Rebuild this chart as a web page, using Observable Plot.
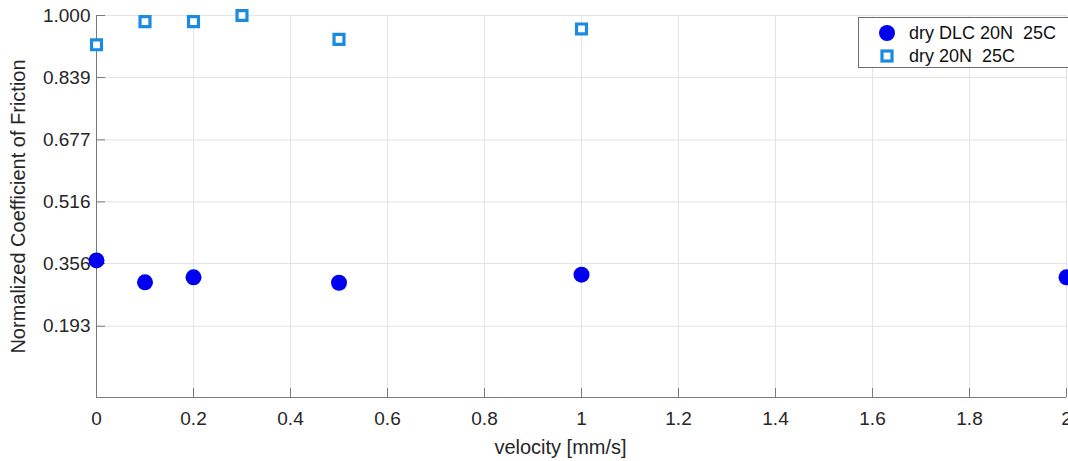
<!DOCTYPE html>
<html>
<head>
<meta charset="utf-8">
<script src="https://cdn.jsdelivr.net/npm/d3@7"></script>
<script src="https://cdn.jsdelivr.net/npm/@observablehq/plot@0.6"></script>
<style>
  html, body { margin: 0; padding: 0; background: #fff; overflow: hidden; }
  #wrap { position: relative; width: 1068px; height: 461px; font-family: "Liberation Sans", Arial, sans-serif; }
  #wrap svg g[aria-label="x-axis tick label"] text,
  #wrap svg g[aria-label="y-axis tick label"] text { font-size: 19px; fill: #262626; }
  #wrap svg g[aria-label="y-axis label"] text { font-size: 20px; fill: #262626; }
  #wrap svg g[aria-label="text"] text { font-size: 20px; fill: #262626; }
  #legend { position: absolute; left: 858px; top: 17px; width: 240px; height: 51px; border: 1px solid #6e6e6e; background: #fff; font-size: 18px; color: #111; box-sizing: border-box; }
  .row { position: absolute; left: 0; height: 22px; display: flex; align-items: center; white-space: pre; }
  .row svg { margin-left: 19px; margin-right: 13px; }
</style>
</head>
<body>
<div id="wrap"></div>
<script>
const seriesNames = ["dry DLC 20N  25C", "dry 20N  25C"];
const dlcVelocity = [0, 0.1, 0.2, 0.5, 1, 2];
const dlcValues   = [0.364, 0.307, 0.320, 0.306, 0.327, 0.320];
const dryVelocity = [0, 0.1, 0.2, 0.3, 0.5, 1];
const dryValues   = [0.924, 0.984, 0.984, 1.000, 0.938, 0.965];
const xTicks = [0, 0.2, 0.4, 0.6, 0.8, 1, 1.2, 1.4, 1.6, 1.8, 2];
const yTicks = [0.193, 0.356, 0.516, 0.677, 0.839, 1.000];
const yDomain = [0.008, 1.0];
const xLabel = "velocity [mm/s]";
const yLabel = "Normalized Coefficient of Friction";

const dlc = dlcVelocity.map((v, i) => ({v, c: dlcValues[i]}));
const dry = dryVelocity.map((v, i) => ({v, c: dryValues[i]}));

const chart = Plot.plot({
  width: 1068,
  height: 461,
  marginTop: 15,
  marginBottom: 64,
  marginLeft: 96,
  marginRight: 2,
  style: {fontFamily: '"Liberation Sans", Arial, sans-serif', fontSize: "19px", color: "#262626", background: "transparent", overflow: "visible"},
  x: {domain: [0, 2]},
  y: {domain: yDomain},
  marks: [
    Plot.gridX(xTicks, {stroke: "#e3e3e3", strokeOpacity: 1}),
    Plot.gridY(yTicks, {stroke: "#e3e3e3", strokeOpacity: 1}),
    Plot.axisX(xTicks, {tickSize: -9, tickPadding: 23, stroke: "#7a7a7a", tickFormat: d => String(d), label: null}),
    Plot.axisY(yTicks, {tickSize: -9, tickPadding: 15, stroke: "#7a7a7a", tickFormat: d => d.toFixed(3), label: yLabel, labelAnchor: "center", labelArrow: "none", labelOffset: 86}),
    Plot.text([xLabel], {text: d => d, frameAnchor: "bottom", dx: -21, dy: 56}),
    Plot.ruleX([0], {stroke: "#7a7a7a"}),
    Plot.ruleY([yDomain[0]], {stroke: "#7a7a7a"}),
    Plot.dot(dry, {x: "v", y: "c", symbol: "square", r: 5.6, stroke: "#1b8be0", strokeWidth: 3.2, fill: "#fff"}),
    Plot.dot(dlc, {x: "v", y: "c", r: 8, fill: "#0000f0", stroke: "none"})
  ]
});
document.getElementById("wrap").appendChild(chart);

const legend = document.createElement("div");
legend.id = "legend";
const symbols = [
  '<svg width="18" height="18"><circle cx="9" cy="9" r="8" fill="#0000f0"/></svg>',
  '<svg width="18" height="18"><rect x="4" y="4" width="10" height="10" fill="#fff" stroke="#1b8be0" stroke-width="3.2"/></svg>'
];
seriesNames.forEach((name, i) => {
  const row = document.createElement("div");
  row.className = "row";
  row.style.top = (4 + i * 23) + "px";
  row.innerHTML = symbols[i] + "<span></span>";
  row.querySelector("span").textContent = name;
  legend.appendChild(row);
});
document.getElementById("wrap").appendChild(legend);
</script>
</body>
</html>
